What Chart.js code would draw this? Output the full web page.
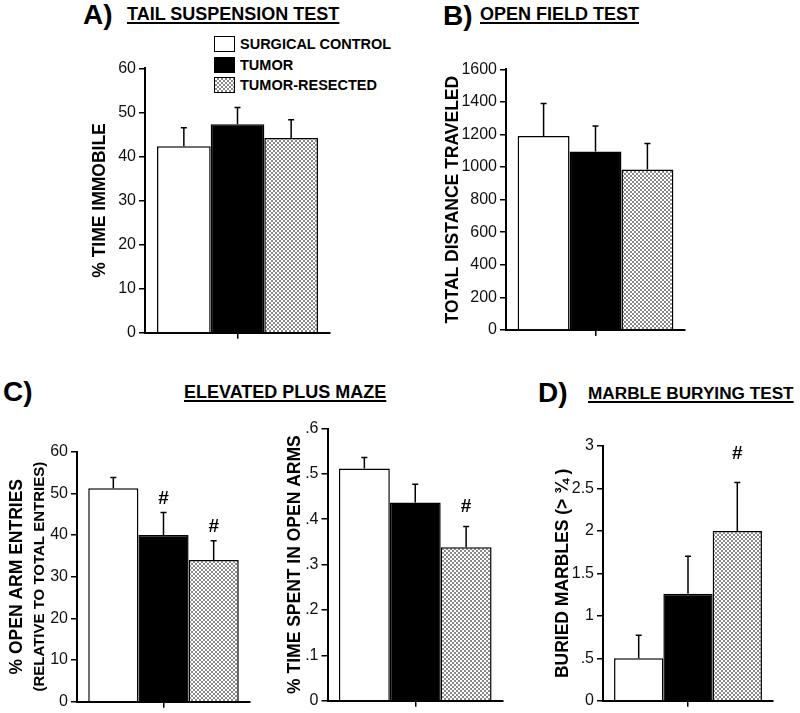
<!DOCTYPE html>
<html>
<head>
<meta charset="utf-8">
<script src="https://cdn.jsdelivr.net/npm/chart.js@4.4.0/dist/chart.umd.min.js"></script>
<style>
  body { margin: 0; width: 800px; height: 713px; position: relative; overflow: hidden; background: #fff;
         font-family: "Liberation Sans", Arial, Helvetica, sans-serif; color: #000; }
  canvas { position: absolute; }
  .letter { position: absolute; font-weight: bold; font-size: 28px; line-height: 28px; white-space: nowrap; }
  .head { position: absolute; font-weight: bold; font-size: 18px; line-height: 18px; white-space: nowrap;
          text-decoration: underline; text-decoration-thickness: 1.5px; text-underline-offset: 2px; }
  .leg { position: absolute; left: 214px; height: 16px; font-weight: bold; font-size: 14.5px; line-height: 16px; white-space: nowrap; }
  .leg span { position: absolute; left: 0; top: 0; width: 21px; height: 16px; box-sizing: border-box; border: 1.5px solid #000; }
  .leg b { position: absolute; left: 26px; top: 0; }
</style>
</head>
<body>
<div class="letter" style="left:83px;top:1px">A)</div>
<div class="head" style="left:127px;top:5px">TAIL SUSPENSION TEST</div>
<div class="letter" style="left:443px;top:2px">B)</div>
<div class="head" style="left:480px;top:5px">OPEN FIELD TEST</div>
<div class="letter" style="left:3px;top:378px">C)</div>
<div class="head" style="left:184px;top:383px">ELEVATED PLUS MAZE</div>
<div class="letter" style="left:538px;top:379px">D)</div>
<div class="head" style="left:588px;top:383.5px;font-size:17.2px">MARBLE BURYING TEST</div>
<div id="legend"></div>

<canvas id="chartA"></canvas>
<canvas id="chartB"></canvas>
<canvas id="chartC1"></canvas>
<canvas id="chartC2"></canvas>
<canvas id="chartD"></canvas>

<script>
// 数据
const groups = ['SURGICAL CONTROL', 'TUMOR', 'TUMOR-RESECTED']

const tailMean = [42.3, 47.3, 44.2]
const tailSem = [4.2, 3.8, 4.1]
const tailTicks = [0, 10, 20, 30, 40, 50, 60]

const fieldMean = [1190, 1095, 985]
const fieldSem = [200, 157, 160]
const fieldTicks = [0, 200, 400, 600, 800, 1000, 1200, 1400, 1600]

const entriesMean = [51.2, 40.0, 34.0]
const entriesSem = [2.6, 5.4, 4.6]
const entriesSig = [false, true, true]
const entriesTicks = [0, 10, 20, 30, 40, 50, 60]

const openTimeMean = [0.512, 0.437, 0.338]
const openTimeSem = [0.024, 0.040, 0.046]
const openTimeSig = [false, false, true]
const openTimeTicks = [0, 0.1, 0.2, 0.3, 0.4, 0.5, 0.6]

const marblesMean = [0.5, 1.26, 2.0]
const marblesSem = [0.27, 0.44, 0.57]
const marblesSig = [false, false, true]
const marblesTicks = [0, 0.5, 1, 1.5, 2, 2.5, 3]

const FONT = '"Liberation Sans", Arial, Helvetica, sans-serif'

// 网格图案（肿瘤切除组）
function makePattern() {
  const c = document.createElement('canvas')
  c.width = 4
  c.height = 4
  const g = c.getContext('2d')
  g.fillStyle = '#fff'
  g.fillRect(0, 0, 4, 4)
  g.fillStyle = '#8a8a8a'
  g.fillRect(0, 0, 2, 2)
  g.fillRect(2, 2, 2, 2)
  return g.createPattern(c, 'repeat')
}
const fills = ['#fff', '#000', makePattern()]

// 图例
const legendEl = document.getElementById('legend')
const swatchCss = ['#fff', '#000', 'repeating-conic-gradient(#8a8a8a 0 25%, #fff 0 50%) 0 0 / 4px 4px']
groups.forEach((g, i) => {
  const row = document.createElement('div')
  row.className = 'leg'
  row.style.top = (36 + i * 20.7) + 'px'
  row.innerHTML = '<span style="background:' + swatchCss[i] + '"></span><b>' + g + '</b>'
  legendEl.appendChild(row)
})

function fmtTick(v) {
  if (v === 0) return '0'
  return String(Math.round(v * 100) / 100).replace(/^0\./, '.')
}

// 误差线 + 显著性标记
const errorBars = {
  id: 'errorBars',
  afterDatasetsDraw(chart, args, opts) {
    const ctx = chart.ctx
    const y = chart.scales.y
    ctx.save()
    ctx.strokeStyle = '#000'
    ctx.lineWidth = 1.5
    chart.data.datasets.forEach((ds, i) => {
      chart.getDatasetMeta(i).data.forEach((bar, j) => {
        const top = y.getPixelForValue(ds.data[j] + ds.sem[j])
        ctx.beginPath()
        ctx.moveTo(bar.x, bar.y)
        ctx.lineTo(bar.x, top)
        ctx.moveTo(bar.x - 3, top)
        ctx.lineTo(bar.x + 3, top)
        ctx.stroke()
        if (ds.sig && ds.sig[j]) {
          ctx.fillStyle = '#000'
          ctx.font = 'bold 19px ' + FONT
          ctx.textAlign = 'center'
          ctx.textBaseline = 'middle'
          ctx.fillText('#', bar.x, top - opts.sigGap)
        }
      })
    })
    ctx.restore()
  }
}

// area: 绘图区页面坐标; titles: [{text, size, x}] 从内到外
function panelChart(id, area, means, sems, sig, ticks, titles, sigGap) {
  const left = Math.round(area.l) - 80
  const top = Math.floor(area.t) - 30
  const width = Math.ceil(area.r) + 15 - left
  const height = Math.ceil(area.b) + 20 - top
  const cv = document.getElementById(id)
  cv.width = width
  cv.height = height
  cv.style.left = left + 'px'
  cv.style.top = top + 'px'

  // 额外标题轴（外层）
  const extraW = titles.length > 1 ? 28 : 0
  const yLeft = left + extraW
  const scales = {
    x: {
      grid: { display: true, drawOnChartArea: false, offset: false, color: '#000', lineWidth: 1.5, tickLength: 6 },
      border: { color: '#000', width: 2 },
      ticks: { display: false },
      afterFit: s => { s.height = 20 }
    },
    y: {
      min: ticks[0],
      max: ticks[ticks.length - 1],
      afterBuildTicks: s => { s.ticks = ticks.map(v => ({ value: v })) },
      ticks: { color: '#111', font: { size: 16, family: FONT }, padding: 3, callback: fmtTick },
      grid: { drawOnChartArea: false, color: '#000', lineWidth: 1.5, tickLength: 6 },
      border: { color: '#000', width: 2 },
      title: {
        display: true, text: titles[0].text, color: '#000',
        font: { size: titles[0].size, weight: 'bold', family: FONT },
        padding: { top: titles[0].x - yLeft - titles[0].size * 0.6, bottom: 0 }
      },
      afterFit: s => { s.width = area.l - yLeft }
    }
  }
  if (titles.length > 1) {
    scales.y2 = {
      position: 'left',
      weight: 1,
      grid: { display: false },
      border: { display: false },
      ticks: { display: false },
      title: {
        display: true, text: titles[1].text, color: '#000',
        font: { size: titles[1].size, weight: 'bold', family: FONT },
        padding: { top: titles[1].x - left - titles[1].size * 0.6, bottom: 0 }
      },
      afterFit: s => { s.width = extraW }
    }
  }

  return new Chart(cv, {
    type: 'bar',
    data: {
      labels: [''],
      datasets: groups.map((g, i) => ({
        label: g,
        data: [means[i]],
        sem: [sems[i]],
        sig: sig ? [sig[i]] : null,
        backgroundColor: fills[i],
        borderColor: '#000',
        borderWidth: 1.5,
        barPercentage: 1,
        categoryPercentage: 0.87
      }))
    },
    options: {
      responsive: false,
      animation: false,
      events: [],
      layout: {
        padding: {
          left: 0,
          top: area.t - top,
          right: left + width - area.r,
          bottom: top + height - 20 - area.b
        }
      },
      plugins: {
        legend: { display: false },
        tooltip: { enabled: false },
        errorBars: { sigGap: sigGap || 14 }
      },
      scales: scales
    },
    plugins: [errorBars]
  })
}

panelChart('chartA', { l: 145, t: 68.3, r: 330, b: 332.7 }, tailMean, tailSem, null, tailTicks,
  [{ text: '% TIME IMMOBILE', size: 17.5, x: 100 }])

panelChart('chartB', { l: 506, t: 69.3, r: 685, b: 330 }, fieldMean, fieldSem, null, fieldTicks,
  [{ text: 'TOTAL DISTANCE TRAVELED', size: 17.5, x: 453 }])

panelChart('chartC1', { l: 77, t: 451.7, r: 250, b: 701.7 }, entriesMean, entriesSem, entriesSig, entriesTicks,
  [{ text: '(RELATIVE TO TOTAL ENTRIES)', size: 15, x: 40 }, { text: '% OPEN ARM ENTRIES', size: 17.5, x: 17 }], 14)

panelChart('chartC2', { l: 327.5, t: 428.5, r: 503, b: 700.7 }, openTimeMean, openTimeSem, openTimeSig, openTimeTicks,
  [{ text: '% TIME SPENT IN OPEN ARMS', size: 17.5, x: 295 }], 20)

panelChart('chartD', { l: 603, t: 446, r: 773, b: 700.7 }, marblesMean, marblesSem, marblesSig, marblesTicks,
  [{ text: 'BURIED MARBLES (> ¾ )', size: 17.5, x: 563 }], 29)
</script>
</body>
</html>
